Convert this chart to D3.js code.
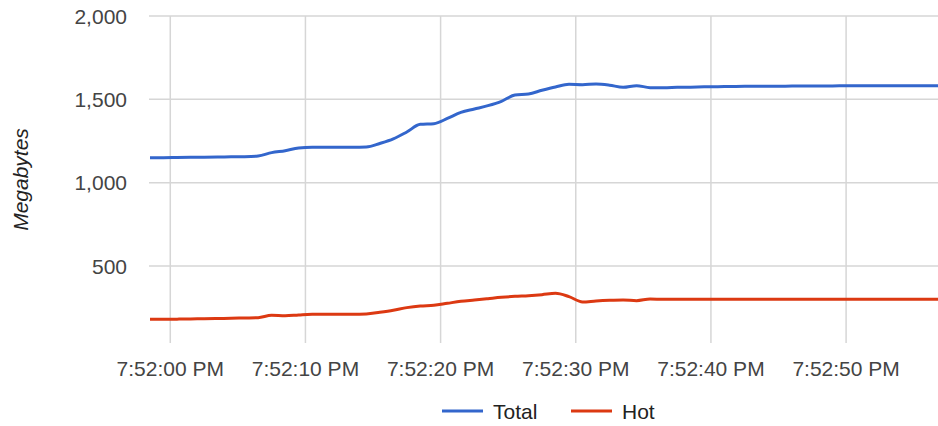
<!DOCTYPE html>
<html>
<head>
<meta charset="utf-8">
<script src="https://cdn.jsdelivr.net/npm/d3@7"></script>
<style>
  body { margin: 0; background: #fff; }
  text { font-family: "Liberation Sans", Arial, sans-serif; fill: #444; }
</style>
</head>
<body>
<script>
// seconds relative to 7:52:00 PM
var seconds = [-1.5, -0.5, 0.5, 1.5, 2.5, 3.5, 4.5, 5.5, 6.5, 7.5, 8.5, 9.5, 10.5, 11.5, 12.5,
  13.5, 14.5, 15.5, 16.5, 17.5, 18.5, 19.5, 20.5, 21.5, 22.5, 23.5, 24.5, 25.5, 26.5, 27.5,
  28.5, 29.5, 30.5, 31.5, 32.5, 33.5, 34.5, 35.5, 36.5, 37.5, 38.5, 39.5, 40.5, 41.5, 42.5,
  43.5, 44.5, 45.5, 46.5, 47.5, 48.5, 49.5, 50.5, 51.5, 52.5, 53.5, 54.5, 55.5, 56.5, 57.5];

var total = [1150, 1150, 1151, 1152, 1153, 1154, 1155, 1156, 1160, 1180, 1192, 1208, 1212, 1212, 1212,
  1212, 1214, 1235, 1262, 1304, 1350, 1354, 1385, 1422, 1442, 1462, 1488, 1526, 1532, 1554,
  1574, 1590, 1588, 1592, 1585, 1572, 1582, 1570, 1570, 1572, 1573, 1575, 1576, 1577, 1578,
  1578, 1579, 1579, 1580, 1580, 1580, 1581, 1581, 1581, 1581, 1582, 1582, 1582, 1582, 1582];

var hot = [180, 180, 181, 182, 184, 185, 186, 188, 190, 204, 201, 206, 210, 210, 210,
  210, 212, 222, 234, 250, 260, 264, 276, 288, 296, 304, 312, 318, 322, 328,
  336, 316, 284, 290, 294, 296, 292, 302, 300, 300, 300, 300, 300, 300, 300,
  300, 300, 300, 300, 300, 300, 300, 300, 300, 300, 300, 300, 300, 300, 300];

var xTicks = [0, 10, 20, 30, 40, 50];
var xTickLabels = ["7:52:00 PM", "7:52:10 PM", "7:52:20 PM", "7:52:30 PM", "7:52:40 PM", "7:52:50 PM"];
var yTicks = [500, 1000, 1500, 2000];

var seriesNames = ["Total", "Hot"];
var seriesColors = ["#3366cc", "#dc3912"];

var width = 938, height = 426;
var plot = {left: 149, right: 938, top: 16, bottom: 343};

var svg = d3.select("body").append("svg")
    .attr("width", width)
    .attr("height", height);

var xScale = d3.scaleLinear()
    .domain([-1.5, 56.8])
    .range([150, 938]);

var yScale = d3.scaleLinear()
    .domain([0, 2000])
    .range([349.3, 16]);

// grid lines
svg.append("g").selectAll("line")
    .data(yTicks).enter().append("line")
    .attr("x1", plot.left).attr("x2", plot.right)
    .attr("y1", function(d) { return yScale(d); })
    .attr("y2", function(d) { return yScale(d); })
    .style("stroke", "#d6d6d6").style("stroke-width", 1.5);

svg.append("g").selectAll("line")
    .data(xTicks).enter().append("line")
    .attr("x1", function(d) { return xScale(d); })
    .attr("x2", function(d) { return xScale(d); })
    .attr("y1", plot.top).attr("y2", plot.bottom)
    .style("stroke", "#d6d6d6").style("stroke-width", 1.5);

// y labels
svg.append("g").selectAll("text")
    .data(yTicks).enter().append("text")
    .attr("x", 127)
    .attr("y", function(d) { return yScale(d); })
    .attr("dy", "0.36em")
    .style("text-anchor", "end")
    .style("font-size", "21px")
    .text(function(d) { return d3.format(",")(d); });

// x labels
svg.append("g").selectAll("text")
    .data(xTicks).enter().append("text")
    .attr("x", function(d) { return xScale(d); })
    .attr("y", 376)
    .style("text-anchor", "middle")
    .style("font-size", "21px")
    .text(function(d, i) { return xTickLabels[i]; });

// axis title
svg.append("text")
    .attr("transform", "translate(28," + (plot.top + plot.bottom) / 2 + ") rotate(-90)")
    .style("text-anchor", "middle")
    .style("font-size", "21px")
    .style("font-style", "italic")
    .style("fill", "#222")
    .text("Megabytes");

svg.append("clipPath").attr("id", "clip")
  .append("rect")
    .attr("x", plot.left).attr("y", 0)
    .attr("width", plot.right - plot.left).attr("height", plot.bottom + 10);

var line = d3.line()
    .x(function(d) { return xScale(d[0]); })
    .y(function(d) { return yScale(d[1]); })
    .curve(d3.curveMonotoneX);

[total, hot].forEach(function(vals, i) {
  svg.append("path")
      .datum(seconds.map(function(s, j) { return [s, vals[j]]; }))
      .attr("clip-path", "url(#clip)")
      .attr("d", line)
      .style("fill", "none")
      .style("stroke", seriesColors[i])
      .style("stroke-width", 3);
});

// legend
var legendX = [442, 571];
seriesNames.forEach(function(name, i) {
  svg.append("line")
      .attr("x1", legendX[i]).attr("x2", legendX[i] + 41)
      .attr("y1", 411).attr("y2", 411)
      .style("stroke", seriesColors[i])
      .style("stroke-width", 3);
  svg.append("text")
      .attr("x", legendX[i] + 51)
      .attr("y", 419)
      .style("font-size", "21px")
      .style("fill", "#222")
      .text(name);
});
</script>
</body>
</html>
